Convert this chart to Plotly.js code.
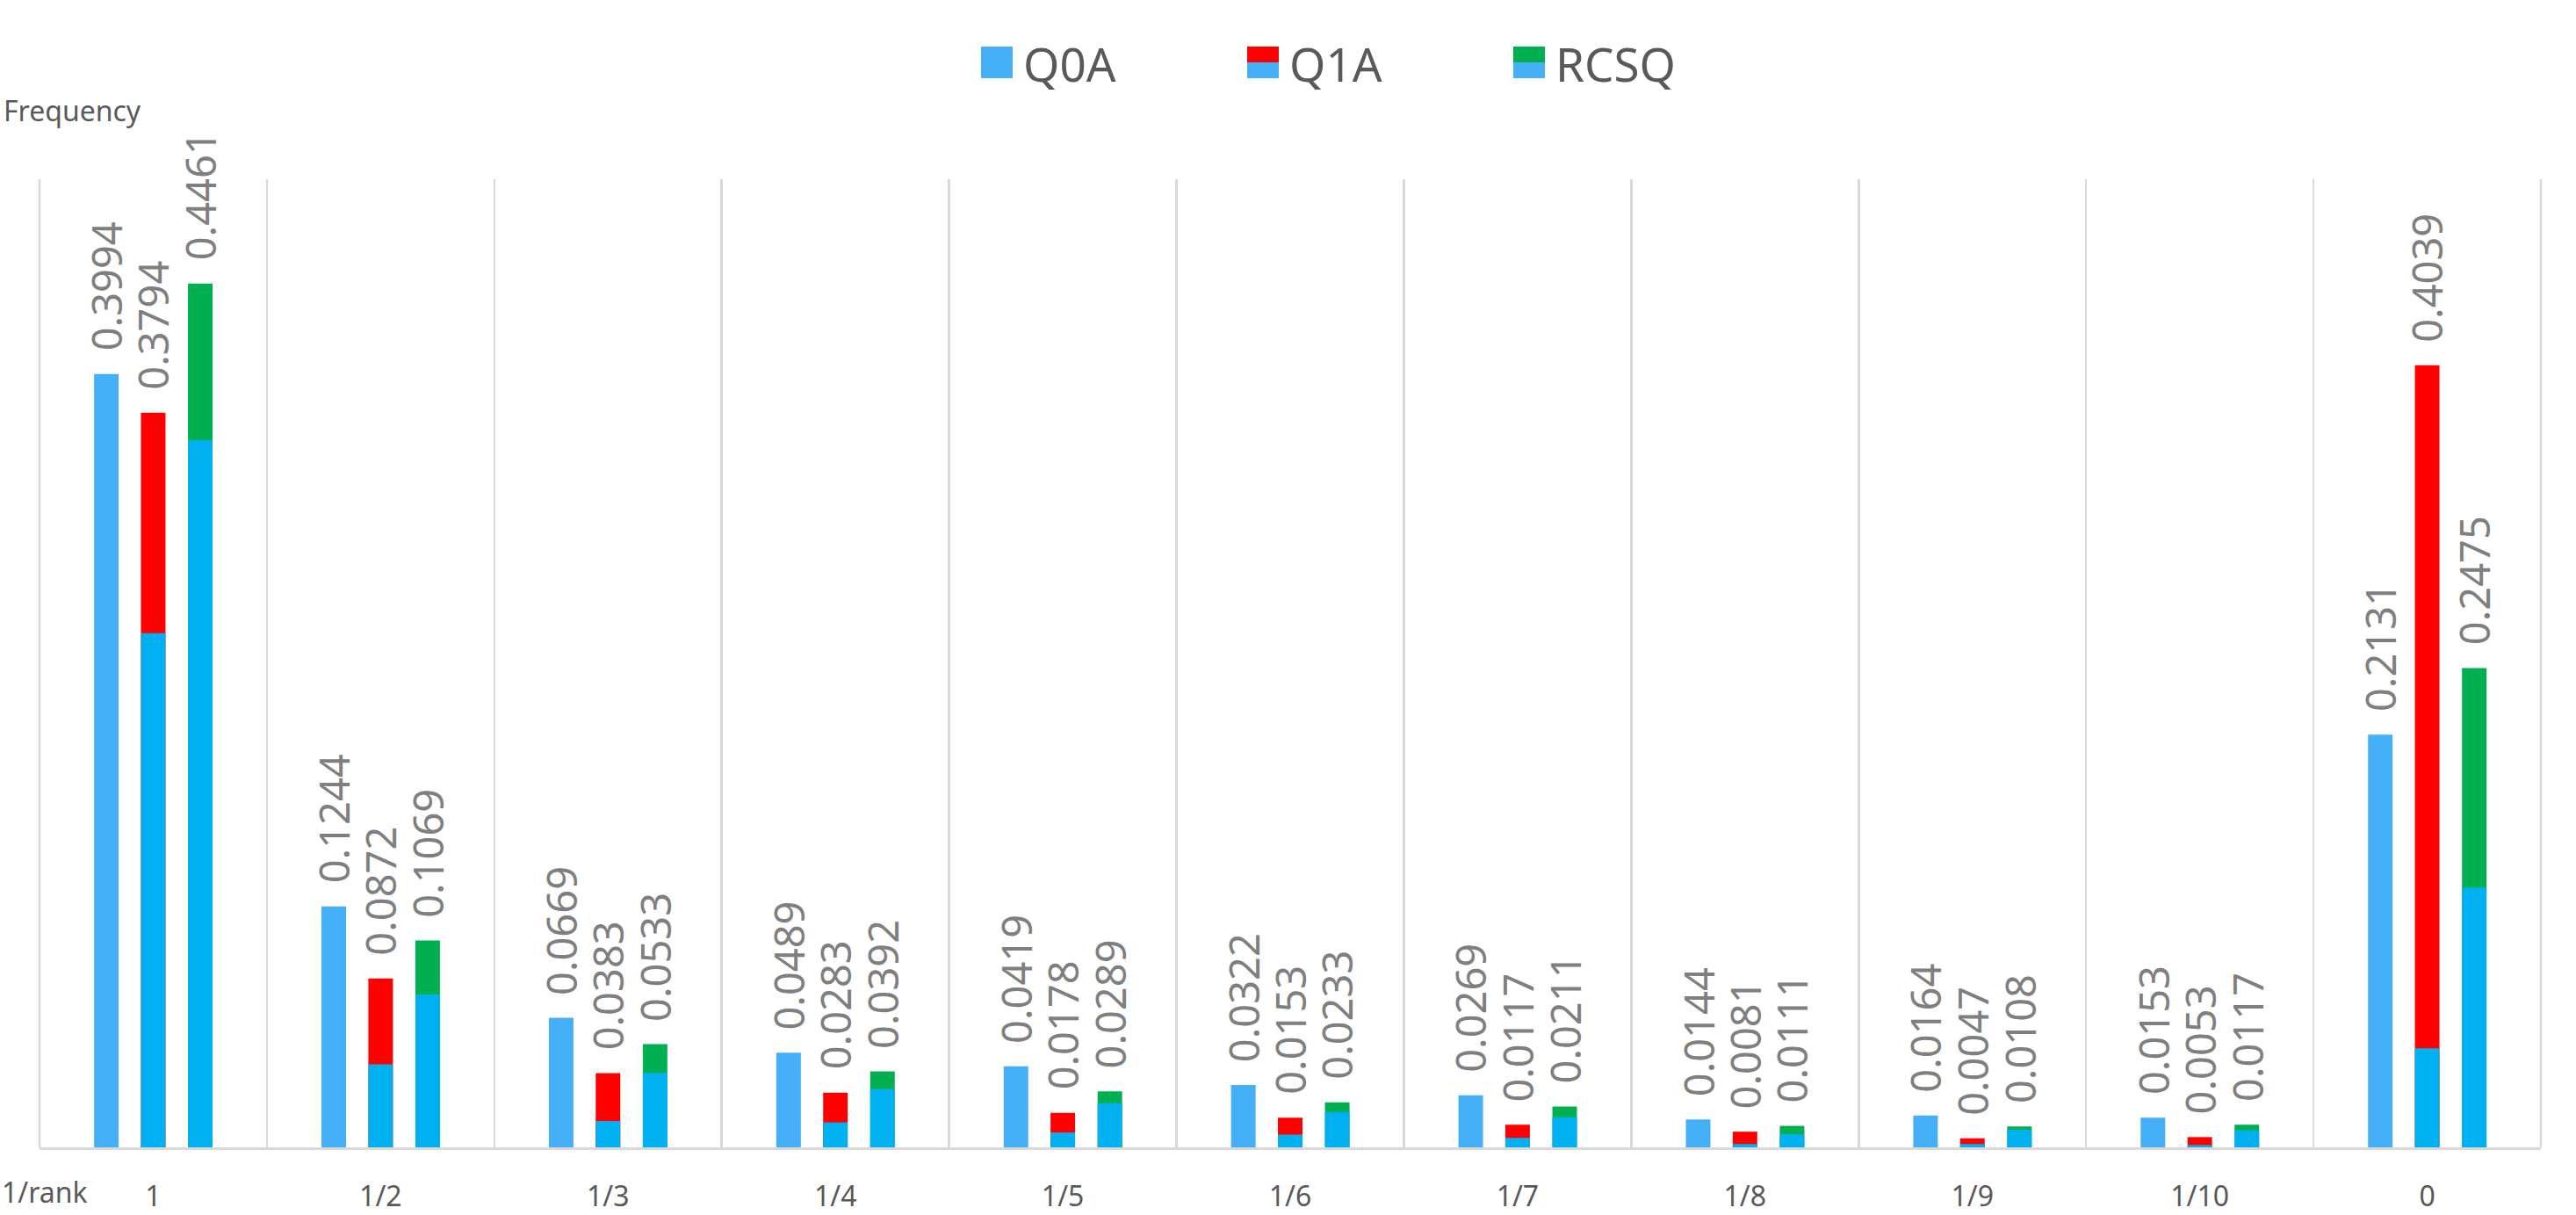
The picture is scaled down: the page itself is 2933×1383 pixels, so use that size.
<!DOCTYPE html>
<html>
<head>
<meta charset="utf-8">
<script src="https://cdn.plot.ly/plotly-3.0.1.min.js"></script>
<style>
html, body { margin: 0; padding: 0; background: #fff; }
#chart { width: 2933px; height: 1383px; }
</style>
</head>
<body>
<div id="chart"></div>
<script>
// categories on the x axis (1/rank)
var categories = ['1', '1/2', '1/3', '1/4', '1/5', '1/6', '1/7', '1/8', '1/9', '1/10', '0'];

// Q0A: single bar
var q0a = [0.3994, 0.1244, 0.0669, 0.0489, 0.0419, 0.0322, 0.0269, 0.0144, 0.0164, 0.0153, 0.2131];

// Q1A: total (red top) and the blue part underneath
var q1aTotal = [0.3794, 0.0872, 0.0383, 0.0283, 0.0178, 0.0153, 0.0117, 0.0081, 0.0047, 0.0053, 0.4039];
var q1aBase = [0.2655, 0.0429, 0.0136, 0.0129, 0.0077, 0.0066, 0.0049, 0.0017, 0.0017, 0.0012, 0.0512];

// RCSQ: total (green top) and the blue part underneath
var rcsqTotal = [0.4461, 0.1069, 0.0533, 0.0392, 0.0289, 0.0233, 0.0211, 0.0111, 0.0108, 0.0117, 0.2475];
var rcsqBase = [0.3653, 0.0790, 0.0384, 0.0302, 0.0228, 0.0183, 0.0155, 0.0068, 0.0091, 0.0088, 0.1342];

var W = 2933, H = 1383;
var M = { l: 45, r: 40, t: 204, b: 77 };
var FONT = "'Noto Sans', 'Open Sans', sans-serif";

var lightBlue = '#45AFF7';
var blue = '#00B0F0';
var red = '#FF0000';
var green = '#00B050';
var gridGrey = '#D9D9D9';

var barW = 0.108;
var pos = { q0a: -0.206, q1a: 0, rcsq: 0.207 };

function bar(y, color, center) {
    return {
        type: 'bar',
        x: categories,
        y: y,
        width: barW,
        offset: center - barW / 2,
        marker: { color: color, line: { width: 0 } },
        hoverinfo: 'skip',
        showlegend: false
    };
}

var data = [
    bar(q0a, lightBlue, pos.q0a),
    bar(q1aTotal, red, pos.q1a),
    bar(q1aBase, blue, pos.q1a),
    bar(rcsqTotal, green, pos.rcsq),
    bar(rcsqBase, blue, pos.rcsq)
];

// pixel -> paper helpers for the legend and loose texts
function px(x) { return (x - M.l) / (W - M.l - M.r); }
function py(y) { return (H - M.b - y) / (H - M.t - M.b); }

var annotations = [];

function addLabels(values, center) {
    values.forEach(function (v, i) {
        annotations.push({
            x: i + center, y: v, xref: 'x', yref: 'y',
            text: v.toFixed(4), textangle: -90,
            showarrow: false, xanchor: 'center', yanchor: 'bottom', yshift: 24,
            font: { family: FONT, size: 47, color: '#7F7F7F' }
        });
    });
}
addLabels(q0a, pos.q0a);
addLabels(q1aTotal, pos.q1a);
addLabels(rcsqTotal, pos.rcsq);

function note(text, x, y, size) {
    annotations.push({
        x: px(x), y: py(y), xref: 'paper', yref: 'paper',
        text: text, showarrow: false, xanchor: 'left', yanchor: 'middle',
        font: { family: FONT, size: size, color: '#595959' }
    });
}
note('Frequency', 2, 125, 32);
note('1/rank', 0, 1356, 32);

// legend drawn by hand: the stacked series get a two colour key
var shapes = [];
function box(x0, y0, x1, y1, color) {
    shapes.push({
        type: 'rect', xref: 'paper', yref: 'paper',
        x0: px(x0), x1: px(x1), y0: py(y1), y1: py(y0),
        fillcolor: color, line: { width: 0 }
    });
}
var legend = [
    { name: 'Q0A', x: 1117, top: lightBlue },
    { name: 'Q1A', x: 1420, top: red },
    { name: 'RCSQ', x: 1723, top: green }
];
legend.forEach(function (e, k) {
    if (k === 0) {
        box(e.x, 53, e.x + 36, 89, e.top);
    } else {
        box(e.x, 53, e.x + 36, 71, e.top);
        box(e.x, 71, e.x + 36, 89, lightBlue);
    }
    note(e.name, e.x + 46, 72, 53);
});

// outer category separators at both ends of the plot
[0, 1].forEach(function (xp) {
    shapes.push({
        type: 'line', xref: 'paper', yref: 'paper',
        x0: xp, x1: xp, y0: 0, y1: 1,
        line: { color: gridGrey, width: 2.5 }
    });
});

var layout = {
    width: W, height: H,
    margin: M,
    paper_bgcolor: '#fff', plot_bgcolor: '#fff',
    barmode: 'overlay',
    showlegend: false,
    font: { family: FONT, color: '#595959' },
    xaxis: {
        type: 'category',
        range: [-0.5, 10.5],
        tickson: 'boundaries',
        showgrid: true, gridcolor: gridGrey, gridwidth: 2.5,
        showline: true, linecolor: gridGrey, linewidth: 3,
        ticks: '', ticklabelstandoff: 26,
        tickfont: { family: FONT, size: 32, color: '#595959' },
        fixedrange: true
    },
    yaxis: {
        range: [0, 0.5],
        showgrid: false, zeroline: false, showline: false,
        showticklabels: false, ticks: '',
        fixedrange: true
    },
    annotations: annotations,
    shapes: shapes
};

Plotly.newPlot('chart', data, layout, { displayModeBar: false, staticPlot: true });
</script>
</body>
</html>
